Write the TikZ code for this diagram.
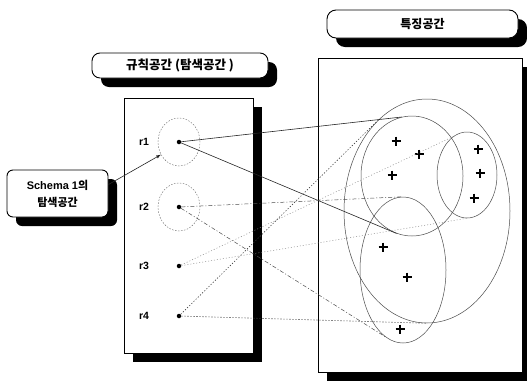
\documentclass[tikz,border=0pt]{standalone}
\usepackage{fontspec}
\setmainfont{Liberation Sans}
\newfontfamily\kor{Noto Sans CJK KR}
\usepackage{tikz}
\usetikzlibrary{positioning,shapes.geometric,shadows}

\begin{document}
\begin{tikzpicture}[x=1pt,y=-1pt,
	shbox/.style={draw,fill=white,line width=0.9pt,inner sep=0pt,general shadow={fill=black,shadow xshift=9pt,shadow yshift=-9pt}},
	rdot/.style={circle,fill=black,inner sep=0pt,minimum size=4.5pt},
	zone/.style={draw,black!60,dash pattern=on 1.5pt off 1.5pt,ellipse,inner sep=0pt,minimum width=42pt,minimum height=48pt},
	cluster/.style={draw,black!70,line width=0.5pt,ellipse,inner sep=0pt},
	linkA/.style={black!85,line width=0.6pt},
	linkB/.style={black!70,line width=0.5pt,dash pattern=on 4pt off 2pt on 1pt off 2pt},
	linkC/.style={black!45,line width=0.5pt,dash pattern=on 1pt off 2pt},
	linkD/.style={black!75,line width=0.6pt,dash pattern=on 1.2pt off 1.8pt}]
	\useasboundingbox (0,0) rectangle (527,381);
	% titles
	\node[shbox,rounded corners=8pt,minimum width=176pt,minimum height=25pt,font=\kor\bfseries\fontsize{12.5}{14}\selectfont] (ruletitle) at (180,65.5) {규칙공간 (탐색공간 )};
	\node[shbox,rounded corners=9pt,minimum width=191pt,minimum height=28pt,font=\kor\bfseries\fontsize{12}{14}\selectfont] (feattitle) at (422.5,24) {특징공간};
	% spaces
	\node[shbox,minimum width=129pt,minimum height=255pt] (rulebox) at (188.5,225.5) {};
	\node[shbox,minimum width=204pt,minimum height=314pt] (featbox) at (420,215) {};
	\node[shbox,rounded corners=6pt,minimum width=101pt,minimum height=47pt,align=center,font=\bfseries\fontsize{11}{17}\selectfont] (schema) at (57.5,193.5) {Schema 1{\kor 의}\\{\kor 탐색공간}};
	% rules
	\foreach \i/\y in {1/142,2/207,3/266,4/316}
	{ \node[rdot,label={[label distance=24pt,font=\bfseries\fontsize{10.5}{12}\selectfont]left:r\i}] (r\i) at (179,\y) {};
	}
	\node[zone] (c1) at (r1) {};
	\node[zone] (c2) at (r2) {};
	% feature sets
	\node[cluster,minimum width=166pt,minimum height=224pt] (big) at (427,211) {};
	\node[cluster,minimum width=102pt,minimum height=120pt] (mid) at (412,176) {};
	\node[cluster,minimum width=60pt,minimum height=86pt] (rgt) at (467,175) {};
	\node[cluster,minimum width=86pt,minimum height=146pt] (low) at (403,270) {};
	\foreach \x/\y in {396/141,419/154,392/175,478/149,480/173,474/198,383/247,407/277,400/329}
	{ \draw[line width=1.8pt] (\x-4.5,\y) -- (\x+4.5,\y) (\x,\y-4.5) -- (\x,\y+4.5);
	}
	% mappings
	\draw[linkA] (r1) -- (mid.100);
	\draw[linkA] (r1) -- (mid.255);
	\draw[linkB] (r2) -- (low.north);
	\draw[linkB] (r2) -- (low.255);
	\draw[linkC] (r3) -- (rgt.110);
	\draw[linkC] (r3) -- (rgt.south);
	\draw[linkD] (r4) -- (big.118);
	\draw[linkD] (r4) -- (big.south);
	\draw[-latex,black!85,line width=0.6pt] (schema.10) -- (c1.215);
\end{tikzpicture}
\end{document}
